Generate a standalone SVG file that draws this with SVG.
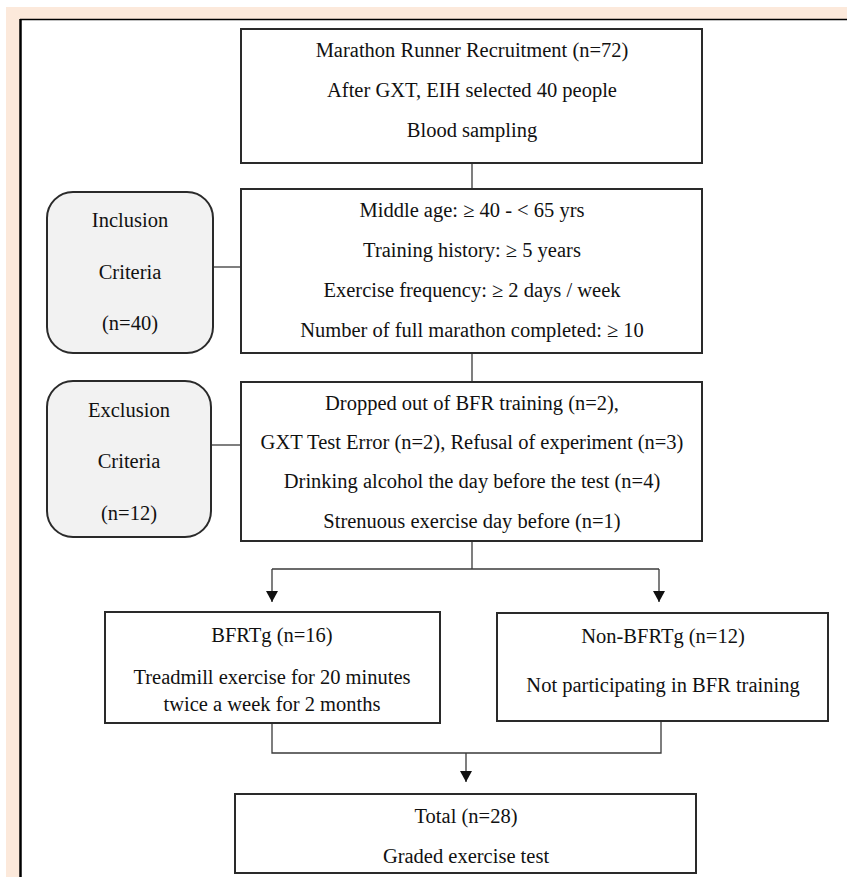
<svg xmlns="http://www.w3.org/2000/svg" width="847" height="877" viewBox="0 0 847 877">
<style>
.box{fill:#ffffff;stroke:#2a2a2a;stroke-width:2}
.rbox{fill:#f2f2f2;stroke:#2a2a2a;stroke-width:2}
.t{font-family:"Liberation Serif","Times New Roman",serif;font-size:20.5px;fill:#111111;text-anchor:middle}
.c{fill:none;stroke:#3a3a3a;stroke-width:1.3}
</style>
<defs>
<marker id="arr" markerUnits="userSpaceOnUse" markerWidth="12" markerHeight="12" refX="11" refY="6" orient="auto">
<path d="M0,0 L11,6 L0,12 Z" fill="#111"/>
</marker>
</defs>
<rect x="0" y="0" width="847" height="877" fill="#ffffff"/>
<rect x="6" y="7" width="841" height="870" fill="#fce9db"/>
<rect x="20" y="19.5" width="827" height="858" fill="#ffffff"/>
<line x1="20" y1="19.5" x2="847" y2="19.5" stroke="#000" stroke-width="1.5"/>
<line x1="20.5" y1="19" x2="20.5" y2="877" stroke="#000" stroke-width="2.5"/>

<g id="connectors">
<line class="c" x1="472" y1="163" x2="472" y2="189"/>
<line class="c" x1="472" y1="353" x2="472" y2="382"/>
<line class="c" x1="213" y1="267" x2="241" y2="267"/>
<line class="c" x1="211" y1="445" x2="241" y2="445"/>
<path class="c" d="M472,541 V569"/>
<path class="c" d="M272,569 H659"/>
<path class="c" d="M272,569 V602" marker-end="url(#arr)"/>
<path class="c" d="M659,569 V602" marker-end="url(#arr)"/>
<path class="c" d="M272,723 V753 H661 V721"/>
<path class="c" d="M466,753 V782" marker-end="url(#arr)"/>
</g>

<g id="recruitment" font-family="Liberation Serif, serif">
<rect class="box" x="241" y="29" width="461" height="134"/>
<text class="t" x="472" y="57">Marathon Runner Recruitment (n=72)</text>
<text class="t" x="472" y="97">After GXT, EIH selected 40 people</text>
<text class="t" x="472" y="137">Blood sampling</text>
</g>

<g id="inclusion-label" font-family="Liberation Serif, serif">
<rect class="rbox" x="47" y="192" width="166" height="161" rx="26" ry="26"/>
<text class="t" x="130" y="227">Inclusion</text>
<text class="t" x="130" y="279">Criteria</text>
<text class="t" x="130" y="330">(n=40)</text>
</g>

<g id="inclusion" font-family="Liberation Serif, serif">
<rect class="box" x="241" y="189" width="461" height="164"/>
<text class="t" x="472" y="217">Middle age: ≥ 40 - &lt; 65 yrs</text>
<text class="t" x="472" y="257">Training history: ≥ 5 years</text>
<text class="t" x="472" y="297">Exercise frequency: ≥ 2 days / week</text>
<text class="t" x="472" y="337">Number of full marathon completed: ≥ 10</text>
</g>

<g id="exclusion-label" font-family="Liberation Serif, serif">
<rect class="rbox" x="47" y="381" width="164" height="156" rx="26" ry="26"/>
<text class="t" x="129" y="417">Exclusion</text>
<text class="t" x="129" y="468">Criteria</text>
<text class="t" x="129" y="520">(n=12)</text>
</g>

<g id="exclusion" font-family="Liberation Serif, serif">
<rect class="box" x="241" y="382" width="461" height="159"/>
<text class="t" x="472" y="410">Dropped out of BFR training (n=2),</text>
<text class="t" x="472" y="449">GXT Test Error (n=2), Refusal of experiment (n=3)</text>
<text class="t" x="472" y="488">Drinking alcohol the day before the test (n=4)</text>
<text class="t" x="472" y="528">Strenuous exercise day before (n=1)</text>
</g>

<g id="bfrtg" font-family="Liberation Serif, serif">
<rect class="box" x="105" y="612" width="335" height="111"/>
<text class="t" x="272" y="642">BFRTg (n=16)</text>
<text class="t" x="272" y="684">Treadmill exercise for 20 minutes</text>
<text class="t" x="272" y="711">twice a week for 2 months</text>
</g>

<g id="non-bfrtg" font-family="Liberation Serif, serif">
<rect class="box" x="497" y="613" width="331" height="108"/>
<text class="t" x="663" y="643">Non-BFRTg (n=12)</text>
<text class="t" x="663" y="692">Not participating in BFR training</text>
</g>

<g id="total" font-family="Liberation Serif, serif">
<rect class="box" x="235" y="794" width="461" height="79"/>
<text class="t" x="466" y="823">Total (n=28)</text>
<text class="t" x="466" y="863">Graded exercise test</text>
</g>
</svg>
